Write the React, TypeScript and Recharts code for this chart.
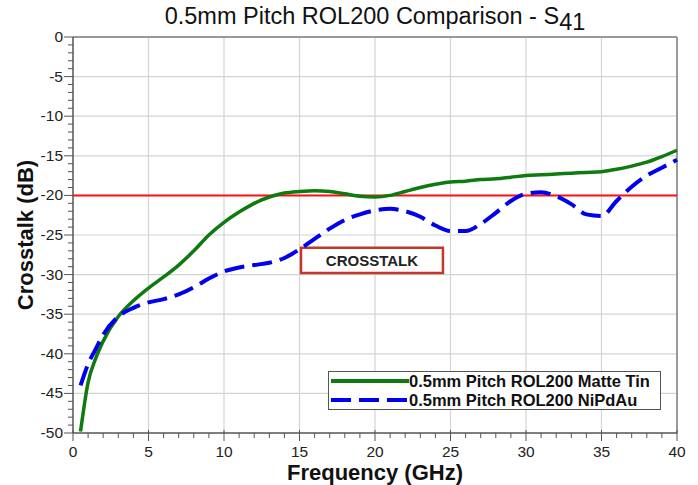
import React from 'react';
import { CartesianGrid, Line, LineChart, ReferenceArea, ReferenceLine, XAxis, YAxis } from 'recharts';

const FREQ = [0.5, 1, 1.5, 2, 3, 4, 5, 6, 7, 8, 9, 10, 11, 12, 13, 14, 15, 16, 17, 18, 19, 20, 21, 22, 23, 24, 25, 26, 27, 28, 29, 30, 31, 32, 33, 34, 35, 36, 37, 38, 39, 40];
const MATTE_TIN = [-49.8, -43.6, -40.6, -38.4, -35.3, -33.3, -31.7, -30.3, -28.8, -27.0, -25.0, -23.4, -22.1, -21.0, -20.2, -19.7, -19.5, -19.4, -19.5, -19.8, -20.1, -20.2, -20.0, -19.5, -19.0, -18.6, -18.3, -18.2, -18.0, -17.9, -17.7, -17.5, -17.4, -17.3, -17.2, -17.1, -17.0, -16.7, -16.3, -15.8, -15.1, -14.3];
const NIPDAU = [-44.0, -41.3, -39.4, -37.6, -35.3, -34.2, -33.5, -33.1, -32.5, -31.6, -30.5, -29.6, -29.1, -28.8, -28.5, -27.9, -26.8, -25.5, -24.2, -23.1, -22.4, -21.9, -21.7, -22.0, -22.7, -23.8, -24.5, -24.5, -23.6, -22.2, -20.7, -19.8, -19.6, -20.1, -21.1, -22.4, -22.6, -20.7, -18.9, -17.5, -16.5, -15.5];

const SERIES_NAMES = ['0.5mm Pitch ROL200 Matte Tin', '0.5mm Pitch ROL200 NiPdAu'];
const X_TICKS = [0, 1, 2, 3, 4, 5, 6, 7, 8, 9, 10, 11, 12, 13, 14, 15, 16, 17, 18, 19, 20, 21, 22, 23, 24, 25, 26, 27, 28, 29, 30, 31, 32, 33, 34, 35, 36, 37, 38, 39, 40];
const Y_TICKS = [-50, -49, -48, -47, -46, -45, -44, -43, -42, -41, -40, -39, -38, -37, -36, -35, -34, -33, -32, -31, -30, -29, -28, -27, -26, -25, -24, -23, -22, -21, -20, -19, -18, -17, -16, -15, -14, -13, -12, -11, -10, -9, -8, -7, -6, -5, -4, -3, -2, -1, 0];
const X_GRID = [5, 10, 15, 20, 25, 30, 35];
const Y_GRID = [-45, -40, -35, -30, -25, -20, -15, -10, -5];
const LIMIT = -20;
const NOTE = { x1: 15.1, x2: 24.5, y1: -29.8, y2: -26.6, text: 'CROSSTALK' };

const data = FREQ.map((f, i) => ({ f, tin: MATTE_TIN[i], nipdau: NIPDAU[i] }));

const FONT = '"Liberation Sans", Arial, sans-serif';
const GREEN = '#0f7a0f';
const BLUE = '#0000f0';

function YTick({ x, y, payload }: any) {
  const major = payload.value % 5 === 0;
  return (
    <g>
      <line x1={x} x2={x - (major ? 9 : 5)} y1={y} y2={y} stroke="#555" />
      {major && (
        <text x={x - 10} y={y} dy={5} textAnchor="end" fontSize={15.5} fill="#222" fontFamily={FONT}>
          {payload.value}
        </text>
      )}
    </g>
  );
}

function XTick({ x, y, payload }: any) {
  const major = payload.value % 5 === 0;
  return (
    <g>
      <line x1={x} x2={x} y1={major ? y - 3 : y} y2={y + (major ? 8 : 5)} stroke="#555" />
      {major && (
        <text x={x} y={y + 24} textAnchor="middle" fontSize={15.5} fill="#222" fontFamily={FONT}>
          {payload.value}
        </text>
      )}
    </g>
  );
}

function NoteLabel({ viewBox }: any) {
  return (
    <text x={viewBox.x + viewBox.width / 2} y={viewBox.y + viewBox.height / 2 + 5.5} textAnchor="middle"
      fontSize={15} fontWeight="bold" fill="#222" fontFamily={FONT}>
      {NOTE.text}
    </text>
  );
}

function YTitle({ viewBox }: any) {
  const cy = viewBox.y + viewBox.height / 2;
  return (
    <text x={33} y={cy} transform={`rotate(-90, 33, ${cy})`} textAnchor="middle"
      fontSize={22} fontWeight="bold" fill="#111" fontFamily={FONT}>
      Crosstalk (dB)
    </text>
  );
}

function XTitle({ viewBox }: any) {
  return (
    <text x={viewBox.x + viewBox.width / 2} y={480} textAnchor="middle"
      fontSize={22} fontWeight="bold" fill="#111" fontFamily={FONT}>
      Frequency (GHz)
    </text>
  );
}

export default function App() {
  return (
    <div style={{ position: 'absolute', left: 0, top: 0, width: 698, height: 485, background: '#fff', fontFamily: FONT }}>
      <div style={{ position: 'absolute', left: 0, top: 3, width: 750, textAlign: 'center', fontSize: 23.5, color: '#111', whiteSpace: 'nowrap' }}>
        0.5mm Pitch ROL200 Comparison - S<span style={{ position: 'relative', top: 6 }}>41</span>
      </div>
      <LineChart width={698} height={485} data={data} margin={{ top: 37, right: 21, left: 0, bottom: 0 }}>
        <CartesianGrid stroke="#d4d4d4" strokeWidth={1.2} verticalValues={X_GRID} horizontalValues={Y_GRID} />
        <XAxis dataKey="f" type="number" domain={[0, 40]} ticks={X_TICKS} interval={0} height={52}
          tickSize={0} tickMargin={0} tick={<XTick />} tickLine={false} axisLine={{ stroke: '#555', strokeWidth: 1.5 }}
          label={<XTitle />} />
        <YAxis type="number" domain={[-50, 0]} ticks={Y_TICKS} interval={0} width={73}
          tickSize={0} tickMargin={0} tick={<YTick />} tickLine={false} axisLine={{ stroke: '#555', strokeWidth: 1.5 }}
          label={<YTitle />} />
        <ReferenceLine y={0} stroke="#999" strokeWidth={2} />
        <ReferenceLine x={40} stroke="#999" strokeWidth={2} />
        <ReferenceLine y={LIMIT} stroke="#ff1010" strokeWidth={2} />
        <Line type="monotone" dataKey="tin" name={SERIES_NAMES[0]} stroke={GREEN} strokeWidth={3.5} dot={false} isAnimationActive={false} />
        <Line type="monotone" dataKey="nipdau" name={SERIES_NAMES[1]} stroke={BLUE} strokeWidth={4} strokeDasharray="20 8" dot={false} isAnimationActive={false} />
        <ReferenceArea x1={NOTE.x1} x2={NOTE.x2} y1={NOTE.y1} y2={NOTE.y2} fill="#fff" fillOpacity={1}
          stroke="#c0392b" strokeWidth={2.5} label={<NoteLabel />} />
      </LineChart>
      <div style={{ position: 'absolute', left: 328, top: 371, width: 331, height: 37, border: '1.5px solid #555', background: '#fff' }}>
        {SERIES_NAMES.map((name, i) => (
          <div key={name} style={{ display: 'flex', alignItems: 'center', height: 18.5 }}>
            <svg width={80} height={10} style={{ flex: 'none' }}>
              <line x1={2} x2={80} y1={5} y2={5} stroke={i === 0 ? GREEN : BLUE} strokeWidth={4}
                strokeDasharray={i === 0 ? undefined : '20 8'} />
            </svg>
            <span style={{ fontSize: 16.5, fontWeight: 'bold', color: '#111', whiteSpace: 'nowrap', lineHeight: '18px' }}>{name}</span>
          </div>
        ))}
      </div>
    </div>
  );
}
